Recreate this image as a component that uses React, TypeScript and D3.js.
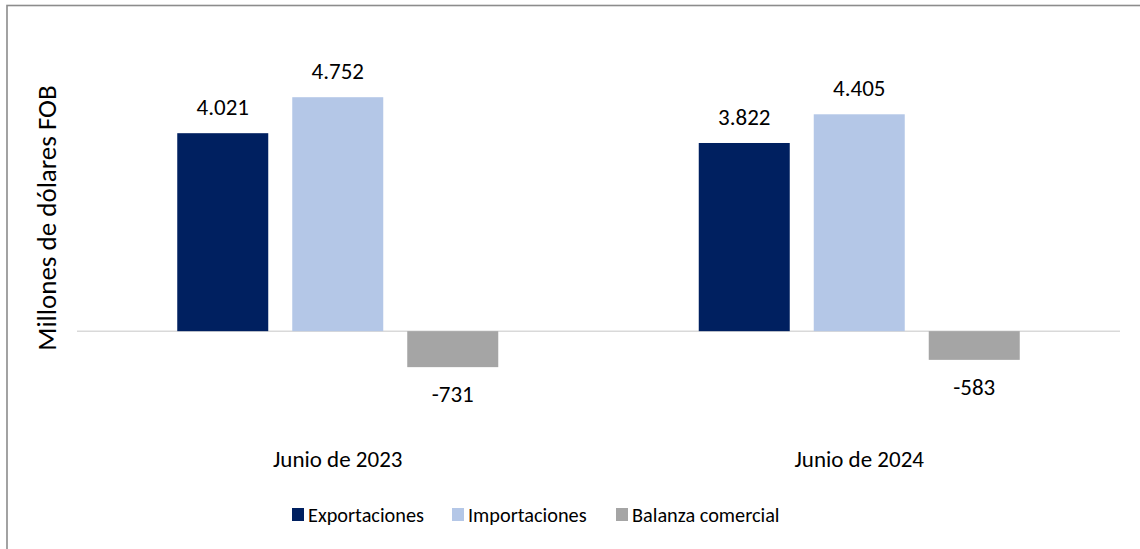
import React, { useRef, useEffect } from 'react';
import * as d3 from 'd3';

const categories = ['Junio de 2023', 'Junio de 2024'];
const seriesNames = ['Exportaciones', 'Importaciones', 'Balanza comercial'];
const exportaciones = [4021, 3822];
const importaciones = [4752, 4405];
const balanza = [-731, -583];
const seriesColors = ['#002060', '#B4C7E7', '#A5A5A5'];

const W = 1140;
const H = 549;
const FONT = 'Carlito, Calibri, Lato, sans-serif';

export default function App() {
  const ref = useRef<SVGSVGElement>(null);

  useEffect(() => {
    if (!ref.current) return;
    const svg = d3.select(ref.current);
    svg.selectAll('*').remove();

    const values = [exportaciones, importaciones, balanza];
    const rows = categories.flatMap((c, ci) =>
      seriesNames.map((s, si) => ({ cat: c, series: s, value: values[si][ci], color: seriesColors[si] }))
    );

    // outer frame (only left and top visible)
    svg.append('rect')
      .attr('x', 7).attr('y', 5.5)
      .attr('width', W + 50).attr('height', H + 50)
      .attr('fill', 'white')
      .attr('stroke', '#8c8c8c')
      .attr('stroke-width', 1.6);

    const x = d3.scaleBand<string>().domain(categories).range([77, 1120]);
    const inner = d3.scaleBand<string>()
      .domain(seriesNames)
      .range([-172.5, 172.5])
      .paddingInner(24 / 115)
      .paddingOuter(12 / 115);
    const y = d3.scaleLinear().domain([-1500, 5000]).range([405, 85]);

    const g = svg.append('g');

    // zero line
    g.append('line')
      .attr('x1', 77).attr('x2', 1120)
      .attr('y1', y(0)).attr('y2', y(0))
      .attr('stroke', '#d9d9d9')
      .attr('stroke-width', 1.5);

    const bx = (d: any) => x(d.cat)! + x.bandwidth() / 2 + inner(d.series)!;

    g.selectAll('rect.bar')
      .data(rows)
      .join('rect')
      .attr('class', 'bar')
      .attr('x', bx)
      .attr('width', inner.bandwidth())
      .attr('y', d => y(Math.max(0, d.value)))
      .attr('height', d => Math.abs(y(d.value) - y(0)))
      .attr('fill', d => d.color);

    const fmt = (v: number) => d3.format(',')(v).replace(/,/g, '.').replace('−', '-');

    g.selectAll('text.val')
      .data(rows)
      .join('text')
      .attr('class', 'val')
      .attr('x', d => bx(d) + inner.bandwidth() / 2)
      .attr('y', d => d.value >= 0 ? y(d.value) - 18 : y(d.value) + 35)
      .attr('text-anchor', 'middle')
      .style('font-family', FONT)
      .style('font-size', '23px')
      .style('fill', '#000')
      .text(d => fmt(d.value));

    // category labels
    g.selectAll('text.cat')
      .data(categories)
      .join('text')
      .attr('class', 'cat')
      .attr('x', d => x(d)! + x.bandwidth() / 2)
      .attr('y', 467)
      .attr('text-anchor', 'middle')
      .style('font-family', FONT)
      .style('font-size', '23px')
      .style('fill', '#000')
      .text(d => d);

    // y axis title
    svg.append('text')
      .attr('transform', 'translate(56,218) rotate(-90)')
      .attr('text-anchor', 'middle')
      .style('font-family', FONT)
      .style('font-size', '27px')
      .style('fill', '#000')
      .text('Millones de dólares FOB');

    // legend
    const legendX = [292, 452, 616];
    const lg = svg.append('g');
    seriesNames.forEach((s, i) => {
      lg.append('rect')
        .attr('x', legendX[i]).attr('y', 508)
        .attr('width', 12).attr('height', 13)
        .attr('fill', seriesColors[i]);
      lg.append('text')
        .attr('x', legendX[i] + 16).attr('y', 522)
        .style('font-family', FONT)
        .style('font-size', '20.3px')
        .style('fill', '#000')
        .text(s);
    });
  }, []);

  return (
    <svg ref={ref} width={W} height={H} style={{ position: 'absolute', left: 0, top: 0, background: 'white' }} />
  );
}
